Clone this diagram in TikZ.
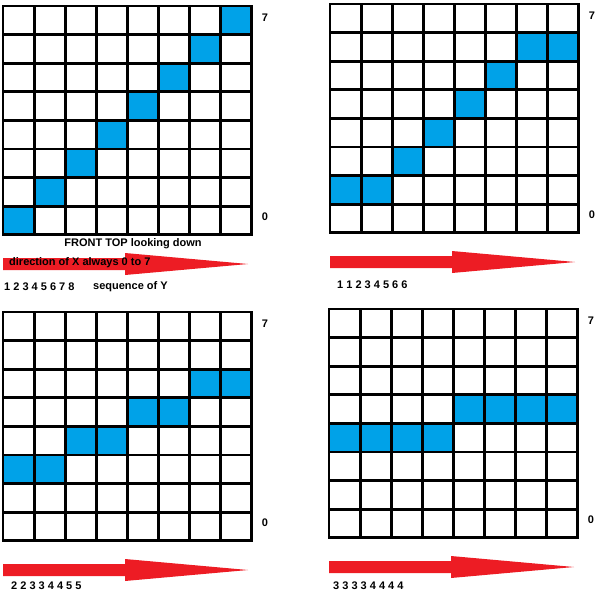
\documentclass[tikz,border=0pt]{standalone}
\usepackage{fontspec}
\setmainfont{Liberation Sans}
\definecolor{ledblue}{RGB}{0,162,232}
\definecolor{arrowred}{RGB}{237,28,36}
\newcommand{\cw}{31.1}
\newcommand{\ch}{28.6}
\newcommand{\gw}{248.8}
\newcommand{\gh}{228.8}
\begin{document}
\begin{tikzpicture}[x=1pt, y=-1pt,
    gridline/.style={line width=2.8pt, line cap=rect},
    ledcell/.style={fill=ledblue},
    bigarrow/.style={fill=arrowred},
    lbl/.style={font=\fontsize{11}{13}\selectfont\bfseries, inner sep=0pt}
]
    \useasboundingbox (0,0) rectangle (600,595);

    \foreach \ox/\oy/\cells/\seq/\sx/\sy [count=\k] in {
        3/6/{0/0,1/1,2/2,3/3,4/4,5/5,6/6,7/7}/{1 2 3 4 5 6 7 8}/4/287,
        330/4/{0/1,1/1,2/2,3/3,4/4,5/5,6/6,7/6}/{1 1 2 3 4 5 6 6}/337/285,
        3/312/{0/2,1/2,2/3,3/3,4/4,5/4,6/5,7/5}/{2 2 3 3 4 4 5 5}/11/586,
        329/309/{0/3,1/3,2/3,3/3,4/4,5/4,6/4,7/4}/{3 3 3 3 4 4 4 4}/333/586}
    {
        % lit cells
        \foreach \c/\r in \cells
            \fill[ledcell] (\ox+\c*\cw, \oy+\gh-\r*\ch-\ch) rectangle ++(\cw,\ch);
        % grid lines
        \foreach \n in {0,...,8} {
            \draw[gridline] (\ox+\n*\cw, \oy) -- ++(0,\gh);
            \draw[gridline] (\ox, \oy+\n*\ch) -- ++(\gw,0);
        }
        \node[lbl] (seven\k) at (\ox+262, \oy+12)  {7};
        \node[lbl] (zero\k)  at (\ox+262, \oy+211) {0};
        % arrow
        \fill[bigarrow] (\ox,\oy+252) -- (\ox+122,\oy+252) -- (\ox+122,\oy+247)
            -- (\ox+245,\oy+258) -- (\ox+122,\oy+269) -- (\ox+122,\oy+264)
            -- (\ox,\oy+264) -- cycle;
        \node[lbl, anchor=west] (seq\k) at (\sx, \sy) {\seq};
    }

    \node[lbl] (front) at (133,244) {FRONT TOP looking down};
    \node[lbl, anchor=west] (dirx) at (9,263) {direction of X always 0 to 7};
    \node[lbl, anchor=west] (seqy) at (93,287) {sequence of Y};
\end{tikzpicture}
\end{document}
